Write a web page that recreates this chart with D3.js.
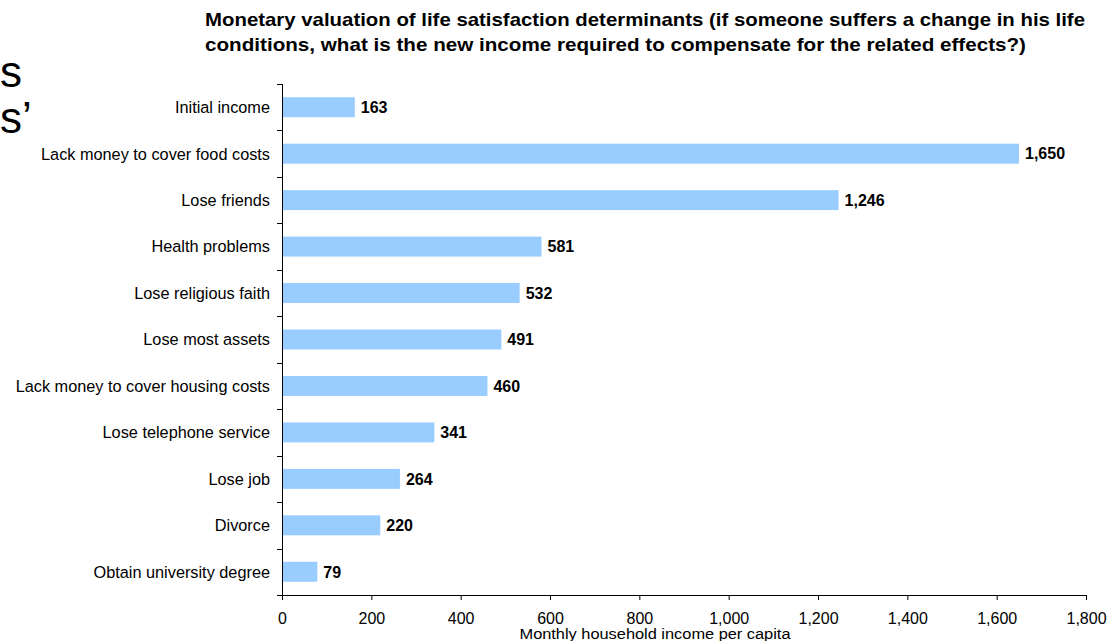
<!DOCTYPE html>
<html><head><meta charset="utf-8">
<script src="https://cdn.jsdelivr.net/npm/d3@7"></script>
<style>
body{margin:0;background:#fff;}
svg{display:block;font-family:"Liberation Sans",Arial,sans-serif;}
</style></head>
<body>
<svg id="c" width="1109" height="641"></svg>
<script>
const categories = ["Initial income","Lack money to cover food costs","Lose friends","Health problems","Lose religious faith","Lose most assets","Lack money to cover housing costs","Lose telephone service","Lose job","Divorce","Obtain university degree"];
const values = [163,1650,1246,581,532,491,460,341,264,220,79];
const xTicks = [0,200,400,600,800,1000,1200,1400,1600,1800];
const titleLines = ["Monetary valuation of life satisfaction determinants (if someone suffers a change in his life","conditions, what is the new income required to compensate for the related effects?)"];
const xTitle = "Monthly household income per capita";
const fragments = ["s","s\u2019"];

(function(){
const svg = d3.select("#c");
const mL = 282, mR = 1086, mT = 84, mB = 595;
const x = d3.scaleLinear().domain([0,1800]).range([mL,mR]);
const y = d3.scaleBand().domain(categories).range([mT,mB]).paddingInner(0.57).paddingOuter(0.285);

// fragments of slide text
svg.selectAll("text.frag").data(fragments).enter().append("text")
  .attr("x",0).attr("y",(d,i)=>87+i*46).attr("font-size",44).attr("fill","#000").text(d=>d);

// title
const titleW = [880, 821];
svg.selectAll("text.title").data(titleLines).enter().append("text")
  .attr("x",205).attr("y",(d,i)=>26+i*25).attr("font-size",19).attr("font-weight","bold")
  .attr("textLength",(d,i)=>titleW[i]).attr("lengthAdjust","spacingAndGlyphs").text(d=>d);

// bars
svg.selectAll("rect.bar").data(values).enter().append("rect")
  .attr("x",x(0)).attr("y",(d,i)=>y(categories[i]))
  .attr("width",d=>x(d)-x(0)).attr("height",y.bandwidth())
  .attr("fill","#99CCFF");

// value labels
svg.selectAll("text.val").data(values).enter().append("text")
  .attr("x",d=>x(d)+6).attr("y",(d,i)=>y(categories[i])+y.bandwidth()/2)
  .attr("dy","0.36em").attr("font-size",16).attr("font-weight","bold")
  .text(d=>d3.format(",")(d));

// x axis
const xAxis = d3.axisBottom(x).tickValues(xTicks).tickFormat(d3.format(",")).tickSize(5).tickPadding(13);
const gx = svg.append("g").attr("transform",`translate(0,${mB})`).call(xAxis);
gx.select(".domain").attr("d",`M${mL},0.5H${mR}`).attr("stroke","#000");
gx.selectAll("text").attr("font-size",16).attr("font-family","Liberation Sans, Arial, sans-serif");

// y axis with ticks between categories
const gy = svg.append("g");
gy.append("line").attr("x1",mL+0.5).attr("x2",mL+0.5).attr("y1",mT).attr("y2",mB).attr("stroke","#000");
const bounds = d3.range(categories.length+1).map(i=>mT+i*(mB-mT)/categories.length);
gy.selectAll("line.tk").data(bounds).enter().append("line")
  .attr("x1",mL-5).attr("x2",mL).attr("y1",d=>Math.round(d)+0.5).attr("y2",d=>Math.round(d)+0.5).attr("stroke","#000");
gy.selectAll("text.cat").data(categories).enter().append("text")
  .attr("x",mL-12).attr("y",d=>y(d)+y.bandwidth()/2).attr("dy","0.36em")
  .attr("text-anchor","end").attr("font-size",16.3).text(d=>d);

// x title
svg.append("text").attr("x",655).attr("y",639).attr("text-anchor","middle").attr("font-size",14)
  .attr("textLength",271).attr("lengthAdjust","spacingAndGlyphs").text(xTitle);
})();
</script>
</body></html>
